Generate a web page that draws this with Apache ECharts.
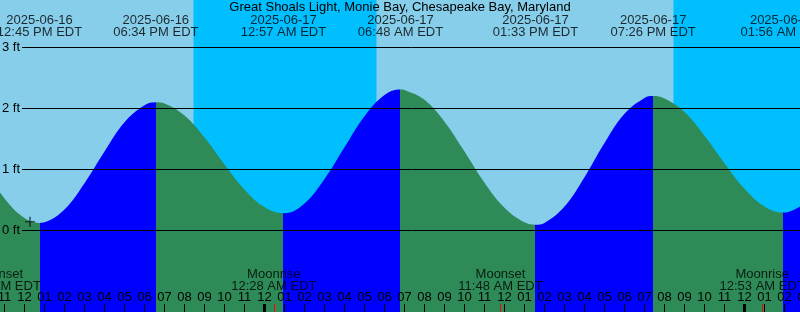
<!DOCTYPE html>
<html>
<head>
<meta charset="utf-8">
<script src="https://cdn.jsdelivr.net/npm/echarts@6/dist/echarts.min.js"></script>
<style>
html,body{margin:0;padding:0;background:#87CEEB;}
#c{width:800px;height:312px;}
</style>
</head>
<body>
<div id="c"></div>
<script>
// ---------- data (hours relative to 2025-06-17 00:00 EDT, heights in ft) ----------
const titleText = 'Great Shoals Light, Monie Bay, Chesapeake Bay, Maryland';

const tideHours = [-14, -13, -12, -11.25, -11, -10, -9, -8, -7, -6, -5.433, -5, -4, -3, -2, -1, 0, 0.95,
  1, 2, 3, 4, 5, 6, 6.8, 7, 8, 9, 10, 11, 12, 13, 13.55, 14, 15, 16, 17, 18, 19, 19.433,
  20, 21, 22, 23, 24, 25, 25.933, 26, 27];
const tideFeet = [1.02, 0.52, 0.20, 0.12, 0.13, 0.34, 0.77, 1.29, 1.77, 2.05, 2.10, 2.08, 1.88, 1.52, 1.08, 0.67, 0.38, 0.28,
  0.28, 0.44, 0.84, 1.36, 1.87, 2.22, 2.31, 2.30, 2.14, 1.78, 1.29, 0.78, 0.37, 0.13, 0.09, 0.12, 0.39, 0.87, 1.43, 1.91, 2.17, 2.20,
  2.16, 1.94, 1.55, 1.10, 0.68, 0.39, 0.29, 0.29, 0.44];

const extremeHours = [-11.25, -5.433, 0.95, 6.8, 13.55, 19.433, 25.933];
const extremeKinds = ['low', 'high', 'low', 'high', 'low', 'high', 'low'];
const eventDates = ['2025-06-16', '2025-06-16', '2025-06-17', '2025-06-17', '2025-06-17', '2025-06-17', '2025-06-18'];
const eventTimes = ['12:45 PM EDT', '06:34 PM EDT', '12:57 AM EDT', '06:48 AM EDT', '01:33 PM EDT', '07:26 PM EDT', '01:56 AM EDT'];

const moonHours = [-13.315, 0.467, 11.8, 24.883];
const moonNames = ['Moonset', 'Moonrise', 'Moonset', 'Moonrise'];
const moonTimes = ['10:41 AM EDT', '12:28 AM EDT', '11:48 AM EDT', '12:53 AM EDT'];

const nightStartHours = [-3.55, 20.45];
const nightEndHours = [5.6, 27];
const midnightHours = [0, 24];
const markHours = [-11.725];
const markFeet = [0.14];

// ---------- styling ----------
const FONT = '"Liberation Sans", Arial, sans-serif';
const FS = 13;
const SKY = '#87CEEB', NIGHT = '#00BFFF', RISE = '#0000FF', FALL = '#2E8B57';
const X_MIN = -14, X_MAX = 27;
const Y_MIN = -1.3393, Y_MAX = 3.7754;

// rising / falling colour pieces along time
const pieces = [{ lt: extremeHours[0], color: extremeKinds[0] === 'low' ? FALL : RISE }];
for (let i = 0; i < extremeHours.length; i++) {
  const p = { gte: extremeHours[i], color: extremeKinds[i] === 'low' ? RISE : FALL };
  if (i + 1 < extremeHours.length) p.lt = extremeHours[i + 1];
  pieces.push(p);
}

function hourLabel(v) {
  const hr = ((Math.round(v) % 24) + 24) % 24;
  const h = hr % 12 === 0 ? 12 : hr % 12;
  return String(h).padStart(2, '0');
}

const chart = echarts.init(document.getElementById('c'), null, { renderer: 'canvas' });
const txt = { fontFamily: FONT, fontSize: FS, color: '#000' };

chart.setOption({
  animation: false,
  backgroundColor: SKY,
  title: {
    text: titleText, left: 'center', top: 1, padding: 0,
    textStyle: Object.assign({ fontWeight: 'normal' }, txt)
  },
  grid: [
    { left: -15.5, right: -4.5, top: 0, bottom: 0, containLabel: false, outerBoundsMode: 'none' },
    { left: 22, right: -5, top: 47.3, bottom: 81.7, containLabel: false, outerBoundsMode: 'none' },
    { left: -15.5, right: -4.5, top: 304, bottom: 0, containLabel: false, outerBoundsMode: 'none' }
  ],
  xAxis: [
    {
      gridIndex: 0, type: 'value', position: 'bottom', min: X_MIN, max: X_MAX, interval: 1, z: 10,
      axisLine: { show: false, onZero: false },
      axisTick: { show: true, inside: true, length: 8, lineStyle: { color: '#000', width: 1 } },
      axisLabel: Object.assign({ show: true, inside: true, margin: 8, interval: 0, hideOverlap: false,
        showMinLabel: true, showMaxLabel: true, formatter: hourLabel }, txt),
      splitLine: { show: false }
    },
    { gridIndex: 1, type: 'value', min: 0, max: 1, show: false, axisLine: { onZero: false }, splitLine: { show: false } },
    { gridIndex: 2, type: 'value', min: X_MIN, max: X_MAX, show: false, axisLine: { onZero: false }, splitLine: { show: false } }
  ],
  yAxis: [
    { gridIndex: 0, type: 'value', min: Y_MIN, max: Y_MAX, show: false, axisLine: { onZero: false }, splitLine: { show: false } },
    {
      gridIndex: 1, type: 'value', min: 0, max: 3, interval: 1, z: 10,
      axisLine: { show: false, onZero: false }, axisTick: { show: false },
      axisLabel: Object.assign({ formatter: '{value} ft', margin: 2 }, txt),
      splitLine: { show: true, lineStyle: { color: '#000', width: 1 } }
    },
    { gridIndex: 2, type: 'value', min: 0, max: 1, show: false, axisLine: { onZero: false }, splitLine: { show: false } }
  ],
  visualMap: {
    type: 'piecewise', show: false, seriesIndex: 0, dimension: 0, pieces: pieces
  },
  series: [
    {
      name: 'tide', type: 'line', xAxisIndex: 0, yAxisIndex: 0, z: 2,
      data: tideHours.map((t, i) => [t, tideFeet[i]]),
      smooth: 0.4, showSymbol: false, symbol: 'none',
      lineStyle: { opacity: 0, width: 0 },
      areaStyle: { opacity: 1, origin: 'start' },
      silent: true
    },
    {
      name: 'night', type: 'line', xAxisIndex: 0, yAxisIndex: 0, data: [], silent: true,
      markArea: {
        silent: true,
        itemStyle: { color: NIGHT, opacity: 1 },
        data: nightStartHours.map((s, i) => [{ xAxis: s }, { xAxis: nightEndHours[i] }])
      }
    },
    {
      name: 'events', type: 'scatter', xAxisIndex: 0, yAxisIndex: 0, z: 6, clip: false, silent: true,
      symbolSize: 0.01, itemStyle: { color: 'transparent' },
      data: extremeHours.map((t, i) => ({
        value: [t, Y_MAX],
        label: { formatter: eventDates[i] + '\n' + eventTimes[i] }
      })),
      label: Object.assign({ show: true, position: 'bottom', distance: 14, lineHeight: 12, align: 'center' }, txt)
    },
    {
      name: 'moon', type: 'scatter', xAxisIndex: 0, yAxisIndex: 0, z: 6, clip: false, silent: true,
      symbolSize: 0.01, itemStyle: { color: 'transparent' },
      data: moonHours.map((t, i) => ({
        value: [t, Y_MIN],
        label: { formatter: moonNames[i] + '\n' + moonTimes[i] }
      })),
      label: Object.assign({ show: true, position: 'top', distance: 20, lineHeight: 12, align: 'center' }, txt)
    },
    {
      name: 'mark', type: 'scatter', xAxisIndex: 0, yAxisIndex: 0, z: 6, silent: true,
      symbol: 'path://M0,5L10,5M5,0L5,10', symbolSize: 10,
      itemStyle: { color: 'none', borderColor: '#000', borderWidth: 1.2 },
      data: markHours.map((t, i) => [t, markFeet[i]])
    },
    {
      name: 'ticks', type: 'line', xAxisIndex: 2, yAxisIndex: 2, data: [], silent: true, z: 8,
      markLine: {
        silent: true, symbol: ['none', 'none'], label: { show: false }, animation: false,
        data: midnightHours.map(h => ({ xAxis: h, lineStyle: { color: '#000', width: 3, type: 'solid' } }))
          .concat(moonHours.map(h => ({ xAxis: h, lineStyle: { color: '#FF0000', width: 1, type: 'solid' } })))
      }
    }
  ]
});
</script>
</body>
</html>
